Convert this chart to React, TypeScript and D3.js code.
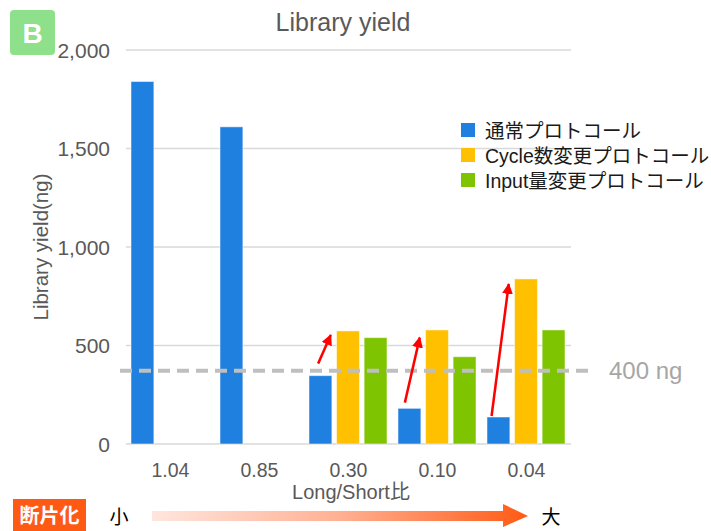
import React from "react";
import * as d3 from "d3";

const categories = ["1.04", "0.85", "0.30", "0.10", "0.04"];
const seriesNames = ["通常プロトコール", "Cycle数変更プロトコール", "Input量変更プロトコール"];
const normalValues: (number | null)[] = [1840, 1610, 347, 181, 137];
const cycleValues: (number | null)[] = [null, null, 574, 579, 838];
const inputValues: (number | null)[] = [null, null, 540, 443, 579];
const yTicks = [0, 500, 1000, 1500, 2000];
const thresholdValue = 372;
const thresholdLabel = "400 ng";
// arrows: category, from value, to value
const arrowCats = ["0.30", "0.10", "0.04"];
const arrowFrom = [408, 210, 142];
const arrowTo = [553, 540, 812];

const colors = ["#1f80e0", "#ffc000", "#7fc400"];

const W = 711;
const H = 531;
const left = 126;
const right = 571;
const top = 50;
const bottom = 444;

export default function App() {
  const x = d3.scaleBand<string>().domain(categories).range([left, right]);
  const inner = d3
    .scaleBand<number>()
    .domain([0, 1, 2])
    .range([5, x.bandwidth() - 6])
    .paddingInner(0.17);
  const y = d3.scaleLinear().domain([0, 2000]).range([bottom, top]);
  const series = [normalValues, cycleValues, inputValues];
  const fmt = d3.format(",");
  const font = "'Liberation Sans', Arial, 'Noto Sans CJK JP', sans-serif";
  const jp = "'Noto Sans CJK JP', sans-serif";

  return (
    <svg
      width={W}
      height={H}
      style={{ position: "absolute", left: 0, top: 0, background: "#fff" }}
      fontFamily={font}
    >
      <defs>
        <linearGradient id="grad" x1="0" x2="1" y1="0" y2="0">
          <stop offset="0" stopColor="#ffe6de" />
          <stop offset="0.5" stopColor="#ffb093" />
          <stop offset="1" stopColor="#ff5a14" />
        </linearGradient>
        <marker
          id="ah"
          viewBox="0 0 10 10"
          refX="9"
          refY="5"
          markerWidth="4.4"
          markerHeight="4.4"
          orient="auto"
        >
          <path d="M0,0 L10,5 L0,10 z" fill="#ff0000" />
        </marker>
      </defs>

      {/* badge */}
      <rect x={10} y={10} width={45} height={45} rx={4} fill="#8ee08a" />
      <text x={32.5} y={43} textAnchor="middle" fill="#fff" fontSize={28} fontWeight="bold">
        B
      </text>

      {/* title */}
      <text x={343} y={31} textAnchor="middle" fill="#595959" fontSize={25}>
        Library yield
      </text>

      {/* gridlines and y labels */}
      {yTicks.map((t) => (
        <g key={t}>
          <line x1={left} x2={right} y1={y(t)} y2={y(t)} stroke="#d9d9d9" strokeWidth={1.5} />
          <text x={110} y={y(t) + 7.5} textAnchor="end" fill="#595959" fontSize={21}>
            {fmt(t)}
          </text>
        </g>
      ))}

      {/* y title */}
      <text
        transform={`translate(48,247) rotate(-90)`}
        textAnchor="middle"
        fill="#595959"
        fontSize={20.5}
      >
        Library yield(ng)
      </text>

      {/* bars */}
      {series.map((vals, si) =>
        vals.map((v, ci) =>
          v == null ? null : (
            <rect
              key={`${si}-${ci}`}
              x={(x(categories[ci]) as number) + (inner(si) as number)}
              y={y(v)}
              width={inner.bandwidth()}
              height={y(0) - y(v)}
              fill={colors[si]}
              stroke="#ffffff"
              strokeOpacity={0.5}
              strokeWidth={1}
            />
          )
        )
      )}

      {/* threshold dashed line */}
      <line
        x1={120}
        x2={595}
        y1={y(thresholdValue)}
        y2={y(thresholdValue)}
        stroke="#bfbfbf"
        strokeWidth={4}
        strokeDasharray="12 7"
      />
      <text x={609} y={y(thresholdValue) + 8.5} fill="#a6a6a6" fontSize={24}>
        {thresholdLabel}
      </text>

      {/* red arrows */}
      {arrowCats.map((c, i) => {
        const bx = (x(c) as number) + (inner(0) as number);
        const bw = inner.bandwidth();
        const x1 = i === 0 ? bx + bw * 0.4 : i === 1 ? bx + bw * 0.3 : bx + bw * 0.2;
        const x2 = bx + bw * 0.95;
        return (
          <line
            key={c}
            x1={x1}
            y1={y(arrowFrom[i])}
            x2={x2}
            y2={y(arrowTo[i])}
            stroke="#ff0000"
            strokeWidth={2.5}
            markerEnd="url(#ah)"
          />
        );
      })}

      {/* x labels */}
      {categories.map((c) => (
        <text
          key={c}
          x={(x(c) as number) + x.bandwidth() / 2}
          y={477}
          textAnchor="middle"
          fill="#595959"
          fontSize={19.5}
        >
          {c}
        </text>
      ))}
      <text x={351} y={499} textAnchor="middle" fill="#595959" fontSize={20}>
        Long/Short比
      </text>

      {/* legend */}
      {seriesNames.map((n, i) => (
        <g key={n} transform={`translate(461,${123 + i * 25})`}>
          <rect width={14} height={14} fill={colors[i]} />
          <text x={24} y={14.5} fill="#1a1a1a" fontSize={19.5}>
            {n}
          </text>
        </g>
      ))}

      {/* bottom fragmentation indicator */}
      <rect x={13} y={499} width={73} height={32} fill="#ff5a14" />
      <text x={49.5} y={523} textAnchor="middle" fill="#fff" fontSize={20} fontWeight="bold" fontFamily={jp}>
        断片化
      </text>
      <text x={119} y={524} textAnchor="middle" fill="#000" fontSize={19} fontFamily={jp}>
        小
      </text>
      <path
        d="M152,511 L503,511 L503,504 L528,516 L503,527 L503,521 L152,521 Z"
        fill="url(#grad)"
      />
      <text x={551} y={524} textAnchor="middle" fill="#000" fontSize={19} fontFamily={jp}>
        大
      </text>
    </svg>
  );
}
